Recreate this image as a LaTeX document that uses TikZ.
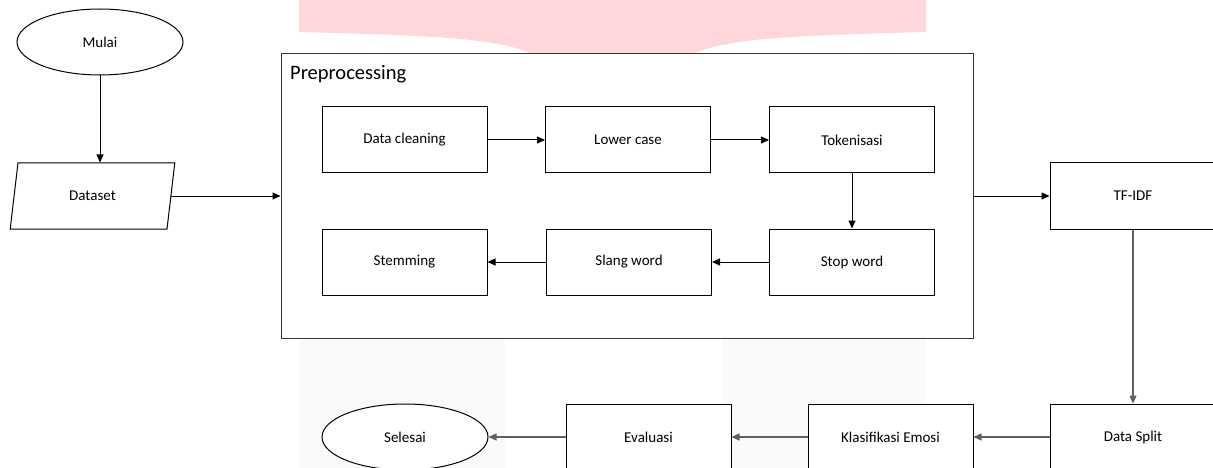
\documentclass[tikz,border=0pt]{standalone}
\usepackage{fontspec}
\setmainfont{Carlito}
\usetikzlibrary{shapes.geometric,arrows.meta}
\definecolor{wmpink}{RGB}{255,214,218}
\definecolor{wmgray}{RGB}{250,250,250}
\definecolor{lgray}{RGB}{95,95,95}
\tikzset{
  lbl/.style={font=\fontsize{15}{17}\selectfont},
  box/.style={lbl, draw=black, line width=1pt, fill=white, minimum width=165pt, minimum height=66pt, inner sep=0pt},
  term/.style={lbl, draw=black, line width=1pt, fill=white, ellipse, minimum width=166pt, minimum height=66pt, inner sep=0pt},
  io/.style={lbl, draw=black, line width=1pt, fill=white, trapezium, trapezium left angle=76, trapezium right angle=104, trapezium stretches=true, minimum width=165pt, minimum height=66pt, inner sep=0pt},
  group/.style={draw=black!80, line width=1pt, fill=white, minimum width=692pt, minimum height=284pt, inner sep=0pt},
  conn/.style={draw=black, line width=1pt, -{Triangle[length=8pt,width=7pt]}},
  gconn/.style={draw=lgray, line width=1.4pt, -{Triangle[length=8pt,width=7pt]}},
}
\begin{document}
\begin{tikzpicture}[x=1pt,y=-1pt]
\clip (0,0) rectangle (1213,468);
\fill[white] (0,0) rectangle (1213,468);
% watermark
\fill[wmpink] (299,0) -- (926,0) -- (926,32) .. controls (780,36) and (715,38) .. (682,60) -- (543,60) .. controls (510,38) and (445,36) .. (299,32) -- cycle;
\fill[wmgray] (299,338) rectangle (505,468);
\fill[wmgray] (722,338) rectangle (926,468);
% nodes
\node[term] (mulai) at (100,42) {Mulai};
\node[io] (dataset) at (92.5,196) {Dataset};
\node[group] (pre) at (627,196) {};
\node[anchor=west, font=\fontsize{20.5}{23}\selectfont, inner sep=0pt] (prelabel) at (290,74) {Preprocessing};
\node[box] (dc) at (404.5,140) {Data cleaning};
\node[box] (lc) at (628,140) {Lower case};
\node[box] (tok) at (852,140) {Tokenisasi};
\node[box] (stem) at (404.5,262) {Stemming};
\node[box] (slang) at (629,262) {Slang word};
\node[box] (stop) at (852,262) {Stop word};
\node[box, minimum width=166pt] (tfidf) at (1133,196) {TF-IDF};
\node[box, minimum width=166pt] (split) at (1133,437) {Data Split};
\node[box] (klas) at (890.5,437) {Klasifikasi Emosi};
\node[box] (eval) at (648.5,437) {Evaluasi};
\node[term] (selesai) at (405,437) {Selesai};
% connectors
\draw[conn] (mulai.south) -- (mulai.south |- dataset.north);
\draw[conn] (dataset.east) -- (pre.west);
\draw[conn] (dc.east) -- (lc.west);
\draw[conn] (lc.east) -- (tok.west);
\draw[conn] (tok.south) -- (stop.north);
\draw[conn] (stop.west) -- (slang.east);
\draw[conn] (slang.west) -- (stem.east);
\draw[conn] (pre.east) -- (tfidf.west);
\draw[gconn] (tfidf.south) -- (split.north);
\draw[gconn] (split.west) -- (klas.east);
\draw[gconn] (klas.west) -- (eval.east);
\draw[gconn] (eval.west) -- (selesai.east);
\end{tikzpicture}
\end{document}
